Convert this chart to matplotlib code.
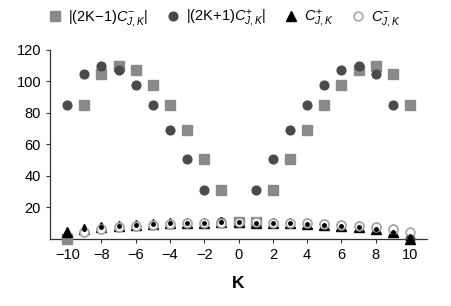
import numpy as np
import matplotlib
matplotlib.use("Agg")
import matplotlib.pyplot as plt

plt.rcParams['font.family'] = ['Liberation Sans', 'DejaVu Sans']
plt.rcParams['mathtext.fontset'] = 'custom'
plt.rcParams['mathtext.rm'] = 'Liberation Sans'
plt.rcParams['mathtext.it'] = 'Liberation Sans:italic'

# Werte
K = list(range(-10, 11))
kreis_gross = [85, 105, 110, 107, 98, 85, 69, 51, 31, 10.5, 10.5,
               31, 51, 69, 85, 98, 107, 110, 105, 85, 0]
quadrat = [0, 85, 105, 110, 107, 98, 85, 69, 51, 31, 10.5,
           10.5, 31, 51, 69, 85, 98, 107, 110, 105, 85]
c_plus = [4.5, 6.2, 7.3, 8.2, 8.9, 9.5, 9.9, 10.2, 10.4, 10.5, 10.5,
          10.4, 10.2, 9.9, 9.5, 8.9, 8.2, 7.3, 6.2, 4.5, 0]
c_minus = [0, 4.5, 6.2, 7.3, 8.2, 8.9, 9.5, 9.9, 10.2, 10.4, 10.5,
           10.5, 10.4, 10.2, 9.9, 9.5, 8.9, 8.2, 7.3, 6.2, 4.5]

fig = plt.figure(figsize=(4.51, 3.06), dpi=100)
ax = fig.add_axes([0.111, 0.219, 0.836, 0.618])

ax.plot(K, quadrat, 's', color='#8a8a8a', markersize=7.2, clip_on=False,
        label=r'|(2K$-$1)$C^{-}_{J,K}$|', zorder=3)
ax.plot(K, kreis_gross, 'o', color='#4a4a4a', markersize=6.3, clip_on=False,
        label=r'|(2K+1)$C^{+}_{J,K}$|', zorder=4)
ax.plot(K, c_plus, '^', color='black', markersize=6.5, clip_on=False,
        label=r'$C^{+}_{J,K}$', zorder=5)
ax.plot(K, c_minus, 'o', markerfacecolor='white', markeredgecolor='#a8a8a8',
        markeredgewidth=1.2, markersize=6.3, clip_on=False,
        label=r'$C^{-}_{J,K}$', zorder=2.5)
# kleine Punkte in der Mitte (Ueberlagerung)
ax.plot(K[1:-1], c_minus[1:-1], 'o', markerfacecolor='white',
        markeredgecolor='#a8a8a8', markeredgewidth=1.2, markersize=6.3,
        clip_on=False, zorder=6)
ax.plot(K[1:-1], c_plus[1:-1], 'o', color='black', markersize=2.5,
        zorder=7, clip_on=False)

ax.set_xlim(-11, 11)
ax.set_ylim(0, 120)
ax.set_xticks(np.arange(-10, 11, 2))
ax.set_xticklabels([str(v).replace('-', '\u2212') for v in range(-10, 11, 2)])
ax.set_yticks(np.arange(20, 121, 20))
ax.tick_params(labelsize=10.5, length=3, width=0.8, color='#333333')
ax.spines['top'].set_visible(False)
ax.spines['right'].set_visible(False)
for s in ['left', 'bottom']:
    ax.spines[s].set_linewidth(0.9)
    ax.spines[s].set_color('#333333')

ax.set_xlabel('K', fontsize=12.5, fontweight='bold', labelpad=10)

ax.legend(loc='lower center', bbox_to_anchor=(0.46, 1.04), ncol=4,
          frameon=False, fontsize=10.5, handletextpad=0.3,
          columnspacing=1.1, handlelength=1.2)

fig.savefig('out.png', dpi=100)
